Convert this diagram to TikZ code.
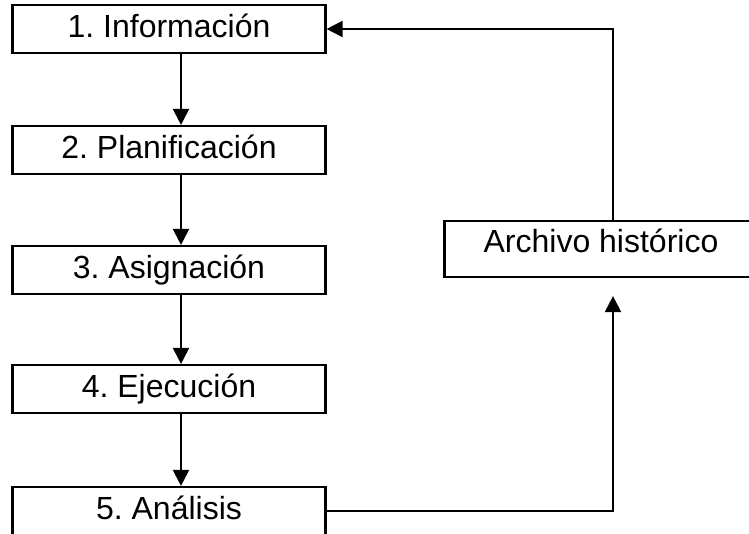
\documentclass[tikz,border=0pt]{standalone}
\usepackage{fontspec}
\setmainfont{Liberation Sans}
\usetikzlibrary{arrows.meta}
\frenchspacing
\begin{document}
\begin{tikzpicture}[x=1pt,y=-1pt]
	\tikzstyle{stepbox} = [draw,line width=2.2pt,fill=white,inner sep=0pt,minimum width=313pt,text height=32pt,text depth=16pt,font=\fontsize{32}{38}\selectfont]
	\tikzstyle{flowedge} = [-{Triangle[length=16pt,width=16pt]},line width=2.2pt]

	\def\colx{169}
	\def\shift{12pt}

	\useasboundingbox (0,0) rectangle (749,533);
	\clip (0,0) rectangle (749,533);

	% NODES %
	\node[stepbox] (info) at (\colx,29) {1. Información};
	\node[stepbox] (plan) at (\colx,150) {2. Planificación};
	\node[stepbox] (asig) at (\colx,270) {3. Asignación};
	\node[stepbox] (ejec) at (\colx,389) {4. Ejecución};
	\node[stepbox] (anal) at (\colx,511) {5. Análisis};

	\node[stepbox,text height=31pt,text depth=25pt] (arch) at (601,249) {Archivo histórico};

	% EDGES %
	\draw[flowedge] ([xshift=\shift]info.south) -- ([xshift=\shift]plan.north);
	\draw[flowedge] ([xshift=\shift]plan.south) -- ([xshift=\shift]asig.north);
	\draw[flowedge] ([xshift=\shift]asig.south) -- ([xshift=\shift]ejec.north);
	\draw[flowedge] ([xshift=\shift]ejec.south) -- ([xshift=\shift]anal.north);
	%feedback
	\draw[flowedge] (anal.east) -| ([xshift=\shift,yshift=-18pt]arch.south);
	\draw[flowedge] ([xshift=\shift]arch.north) |- (info.east);
\end{tikzpicture}
\end{document}
